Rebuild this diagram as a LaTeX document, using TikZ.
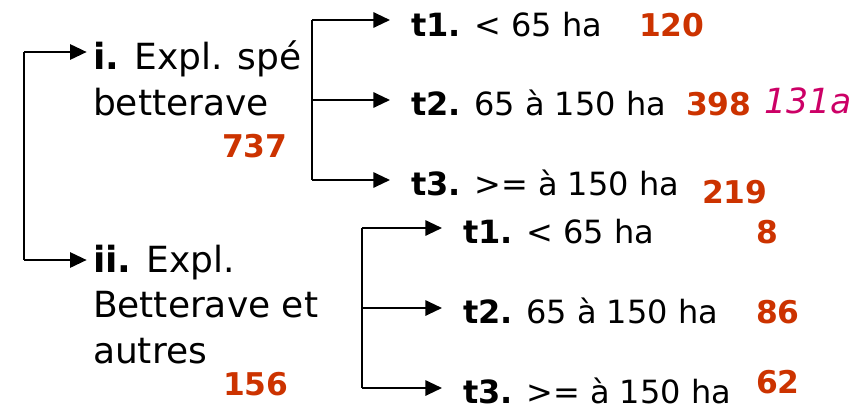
\documentclass[tikz,border=0pt]{standalone}
\usepackage{fontspec}
\setmainfont{DejaVu Sans}
\usetikzlibrary{arrows.meta,positioning}

\definecolor{numred}{RGB}{204,51,0}
\definecolor{numpink}{RGB}{204,0,102}

\begin{document}
\begin{tikzpicture}
  [x=0.75pt,y=-0.75pt,line width=1.5pt,
   every node/.style={inner sep=0pt,anchor=base west},
   arr/.style={-{Triangle[length=12.5pt,width=11.5pt]}},
   cat/.style={font=\fontsize{27}{34}\selectfont,align=left},
   size/.style={font=\fontsize{24}{29}\selectfont},
   num/.style={font=\fontsize{23.5}{28}\selectfont\bfseries,text=numred}]
  \useasboundingbox (0,0) rectangle (866,418);

  % categories (base = last line)
  \node[cat] (cati)  at (92,115) {\textbf{i.} Expl. spé\\betterave};
  \node[cat] (catii) at (92,363) {\textbf{ii.} Expl.\\Betterave et\\autres};
  \node[num] (n737) at (221,157) {737};
  \node[num] (n156) at (222,395) {156};

  % size classes
  \node[size] (t1) at (410,36)  {\textbf{t1.} < 65 ha};
  \node[size] (t2) at (410,115) {\textbf{t2.} 65 à 150 ha};
  \node[size] (t3) at (410,195) {\textbf{t3.} >= à 150 ha};
  \node[size] (u1) at (462,243) {\textbf{t1.} < 65 ha};
  \node[size] (u2) at (462,323) {\textbf{t2.} 65 à 150 ha};
  \node[size] (u3) at (462,403) {\textbf{t3.} >= à 150 ha};

  \node[num] (n120) at (638,36)  {120};
  \node[num] (n398) at (685,115) {398};
  \node[font=\fontsize{26}{30}\selectfont\itshape,text=numpink] (n131) at (763,113) {131a};
  \node[num] (n219) at (701,203) {219};
  \node[num] (n8)   at (755,243) {8};
  \node[num] (n86)  at (755,323) {86};
  \node[num] (n62)  at (755,393) {62};

  % brackets
  \coordinate (ma) at (24,52);
  \coordinate (mb) at (24,260);
  \coordinate (ta) at (312,20);
  \coordinate (tb) at (312,100);
  \coordinate (tc) at (312,180);
  \coordinate (ba) at (362,228);
  \coordinate (bb) at (362,308);
  \coordinate (bc) at (362,388);

  \draw (ma) -- (mb);
  \draw (ta) -- (tc);
  \draw (ba) -- (bc);
  \draw[arr,shorten >=4pt] (ma) -- (ma -| cati.west);
  \draw[arr,shorten >=4pt] (mb) -- (mb -| catii.west);
  \foreach \from/\to in {ta/t1, tb/t2, tc/t3, ba/u1, bb/u2, bc/u3}
    \draw[arr,shorten >=15pt] (\from) -- (\from -| \to.west);
\end{tikzpicture}
\end{document}
